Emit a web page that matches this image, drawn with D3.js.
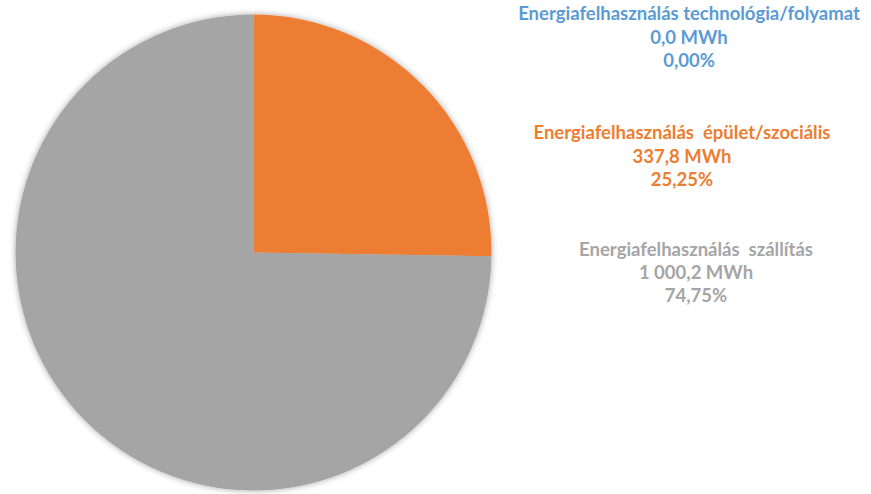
<!DOCTYPE html>
<html><head><meta charset="utf-8">
<script src="https://cdn.jsdelivr.net/npm/d3@7"></script>
<style>html,body{margin:0;padding:0;background:#fff;}svg{display:block;}</style>
</head><body>
<svg id="c" width="871" height="494"></svg>
<script>
const categories = ["Energiafelhasználás technológia/folyamat", "Energiafelhasználás  épület/szociális", "Energiafelhasználás  szállítás"];
const values = [0.0, 337.8, 1000.2];
const colors = ["#5B9BD5", "#ED7D31", "#A5A5A5"];
const unit = "MWh";

const svg = d3.select("#c");
const cx = 253.5, cy = 252.5, R = 238;

const defs = svg.append("defs");
const f = defs.append("filter").attr("id","sh").attr("x","-10%").attr("y","-10%").attr("width","120%").attr("height","120%");
f.append("feGaussianBlur").attr("in","SourceAlpha").attr("stdDeviation",3).attr("result","b");
f.append("feFlood").attr("flood-color","#000").attr("flood-opacity",0.35);
f.append("feComposite").attr("in2","b").attr("operator","in").attr("result","s");
const m = f.append("feMerge");
m.append("feMergeNode").attr("in","s");
m.append("feMergeNode").attr("in","SourceGraphic");

const loc = d3.formatLocale({decimal: ",", thousands: " ", grouping: [3], currency: ["", ""]});
const fmtV = loc.format(",.1f");
const fmtP = loc.format(".2%");
const total = d3.sum(values);

const pie = d3.pie().sort(null).value(d => d)(values);
const arc = d3.arc().innerRadius(0).outerRadius(R);

const g = svg.append("g").attr("transform", `translate(${cx},${cy})`).attr("filter","url(#sh)");
g.selectAll("path").data(pie).join("path")
  .attr("d", arc)
  .attr("fill", (d,i) => colors[i]);

const labelPos = [
  {x: 689, y: [20, 44, 67]},
  {x: 682, y: [139, 163, 186]},
  {x: 696, y: [256, 279, 302]}
];
const font = "Lato, 'Open Sans', sans-serif";
categories.forEach((c, i) => {
  const lines = [c, fmtV(values[i]) + " " + unit, fmtP(values[i] / total)];
  lines.forEach((t, j) => {
    svg.append("text")
      .attr("x", labelPos[i].x).attr("y", labelPos[i].y[j])
      .attr("text-anchor", "middle")
      .attr("font-family", font).attr("font-weight", "bold").attr("font-size", 18.5)
      .attr("fill", colors[i])
      .style("white-space","pre")
      .text(t);
  });
});
</script>
</body></html>
